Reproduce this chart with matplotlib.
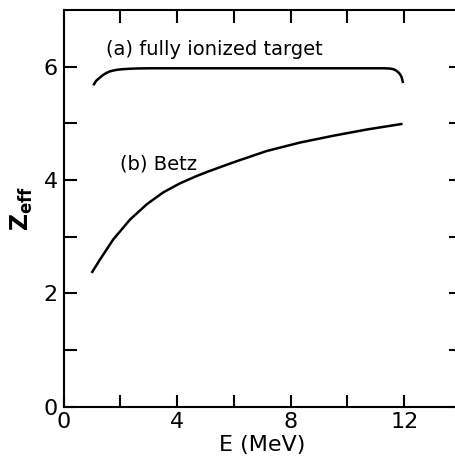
import matplotlib
matplotlib.use('Agg')
import matplotlib.pyplot as plt
import numpy as np

# (a) fully ionized target
E_a = [1.05, 1.15, 1.29, 1.40, 1.52, 1.63, 1.75, 1.9, 2.1, 2.35, 2.58, 3.0, 6.0, 9.0,
       11.3, 11.5, 11.61, 11.70, 11.79, 11.86, 11.91, 11.96]
Z_a = [5.67, 5.75, 5.81, 5.855, 5.89, 5.915, 5.93, 5.945, 5.955, 5.962, 5.967, 5.97, 5.97, 5.97,
       5.97, 5.965, 5.955, 5.935, 5.90, 5.86, 5.81, 5.71]

# (b) Betz
E_b = [0.99, 1.29, 1.75, 2.34, 2.93, 3.51, 4.10, 4.69, 5.10, 5.98, 7.15, 8.33, 9.5, 10.68, 11.94]
Z_b = [2.36, 2.60, 2.95, 3.30, 3.57, 3.78, 3.94, 4.07, 4.15, 4.31, 4.51, 4.66, 4.78, 4.89, 4.99]

fig = plt.figure(figsize=(4.55, 4.63), dpi=100)
ax = fig.add_axes([0.1396, 0.1216, 0.8736, 0.857])

ax.plot(E_a, Z_a, color='black', lw=1.8, solid_capstyle='butt', solid_joinstyle='round')
ax.plot(E_b, Z_b, color='black', lw=1.8, solid_capstyle='butt', solid_joinstyle='round')

ax.text(1.5, 6.31, '(a) fully ionized target', fontsize=14, va='center', ha='left')
ax.text(2.0, 4.28, '(b) Betz', fontsize=14, va='center', ha='left')

ax.set_xlim(0, 14)
ax.set_ylim(0, 7)
ax.set_xticks([0, 4, 8, 12])
ax.set_xticks([2, 6, 10], minor=True)
ax.set_yticks([0, 2, 4, 6])
ax.set_yticks([1, 3, 5], minor=True)

ax.tick_params(which='both', direction='in', top=True, right=True,
               width=1.5, labelsize=16, pad=4)
ax.tick_params(which='major', length=9)
ax.tick_params(which='minor', length=9)

for s in ax.spines.values():
    s.set_linewidth(1.5)

ax.set_xlabel('E (MeV)', fontsize=16, labelpad=2)
ax.set_ylabel(r'$\mathbf{Z}_{\mathbf{eff}}$', fontsize=17, labelpad=6)

fig.savefig('out.png', dpi=100)
